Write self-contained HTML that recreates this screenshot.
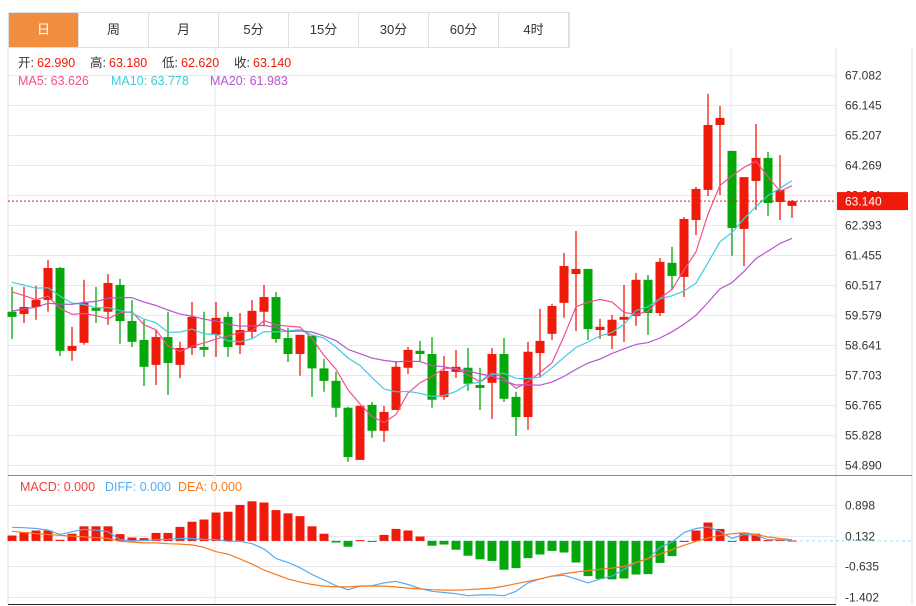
<!DOCTYPE html>
<html><head><meta charset="utf-8"><style>
body{margin:0;background:#fff;font-family:"Liberation Sans","Noto Sans CJK SC",sans-serif;}
#wrap{position:relative;width:916px;height:606px;overflow:hidden;}
.tabs{position:absolute;left:8px;top:12px;height:34px;display:flex;border:1px solid #dde1e6;border-bottom:1px solid #dde1e6;}
.tab{width:70px;height:34px;line-height:34px;text-align:center;font-size:13px;color:#333;border-right:1px solid #dde1e6;box-sizing:border-box;}
.tab.on{background:#f28c3e;color:#fff;}
svg{position:absolute;left:0;top:0;}
</style></head><body><div id="wrap">
<div class="tabs">
<div class="tab on">日</div>
<div class="tab">周</div>
<div class="tab">月</div>
<div class="tab">5分</div>
<div class="tab">15分</div>
<div class="tab">30分</div>
<div class="tab">60分</div>
<div class="tab">4时</div>
</div>
<svg id="chart" width="916" height="606"></svg>
</div>
<script>
const prevCloses=[58.5,58.9,58.6,59.0,58.7,58.8,59.1,58.6,58.9,58.9,60.7,61.0,60.9,61.1,60.8,60.4,60.7,60.5,60.38];
const opens=[59.68,59.61,59.83,60.05,61.05,58.46,58.71,59.80,59.68,60.52,59.39,58.80,58.02,58.89,58.02,58.55,58.58,58.96,59.52,58.64,59.05,59.68,60.14,58.86,58.36,58.93,57.91,57.52,56.68,55.05,56.77,55.96,56.61,57.93,58.46,58.36,57.02,57.80,57.93,57.39,57.46,58.36,57.02,56.39,58.39,58.99,59.96,60.86,61.02,59.11,58.93,59.43,59.55,60.68,59.64,61.21,60.77,62.55,63.49,65.52,64.71,62.27,63.77,64.49,63.11,62.99];
const highs=[60.46,60.46,60.49,61.30,61.08,59.21,60.68,60.46,60.86,60.71,60.05,59.43,59.11,59.68,58.74,59.99,59.68,59.99,59.68,59.64,60.05,60.52,60.30,59.18,58.96,58.93,58.21,57.80,56.71,56.74,56.86,56.74,58.14,58.58,58.77,58.89,58.30,58.49,58.55,57.93,58.55,58.86,57.18,58.74,59.77,59.93,61.52,62.21,61.02,59.46,59.58,60.52,60.89,60.83,61.36,61.71,62.64,63.58,66.49,66.11,64.71,63.89,65.55,64.68,64.58,63.18];
const lows=[58.83,59.33,59.43,59.68,58.30,58.15,58.65,59.33,59.27,58.68,58.58,57.36,57.39,57.08,57.61,58.33,58.27,58.27,58.27,58.36,58.86,59.27,58.71,58.11,57.68,57.02,57.18,56.39,54.99,55.05,55.74,55.61,56.61,57.74,58.14,56.68,56.93,57.61,57.21,56.61,56.33,56.86,55.80,55.99,57.64,58.80,59.49,59.08,58.80,58.83,58.52,58.74,59.24,58.96,59.55,60.36,60.14,62.08,63.30,63.33,61.43,61.11,62.86,62.68,62.55,62.62];
const closes=[59.52,59.83,60.05,61.05,58.46,58.61,59.96,59.71,60.58,59.39,58.74,57.96,58.89,58.08,58.55,59.52,58.49,59.49,58.58,59.11,59.71,60.14,58.83,58.36,58.96,57.91,57.52,56.68,55.14,56.74,55.96,56.55,57.96,58.49,58.36,56.93,57.83,57.96,57.43,57.30,58.36,56.96,56.39,58.43,58.77,59.86,61.11,61.02,59.14,59.21,59.43,59.52,60.68,59.64,61.24,60.80,62.58,63.52,65.52,65.74,62.30,63.89,64.49,63.08,63.49,63.14];
const priceTicks=[67.082,66.145,65.207,64.269,63.331,62.393,61.455,60.517,59.579,58.641,57.703,56.765,55.828,54.890];
const macdHist=[0.135,0.22,0.26,0.26,0.03,0.18,0.365,0.365,0.365,0.17,0.085,0.07,0.2,0.2,0.35,0.48,0.535,0.71,0.73,0.9,0.99,0.96,0.77,0.69,0.62,0.365,0.18,-0.04,-0.145,0.02,-0.02,0.15,0.3,0.26,0.11,-0.12,-0.09,-0.22,-0.37,-0.46,-0.5,-0.72,-0.68,-0.43,-0.34,-0.25,-0.29,-0.54,-0.88,-0.95,-0.96,-0.94,-0.84,-0.83,-0.55,-0.38,0,0.26,0.46,0.3,-0.01,0.21,0.18,0.02,0.03,0.01];
const diffVals=[0.34,0.33,0.31,0.27,0.16,0.23,0.29,0.27,0.23,0.03,0.0,0.01,0.03,0.04,0.06,0.06,0.04,0.03,-0.01,-0.01,-0.07,-0.2,-0.44,-0.54,-0.67,-0.84,-0.98,-1.12,-1.22,-1.13,-1.12,-1.05,-1.01,-1.09,-1.19,-1.26,-1.29,-1.32,-1.37,-1.35,-1.35,-1.37,-1.26,-1.05,-0.95,-0.88,-0.86,-0.95,-1.05,-0.95,-0.88,-0.71,-0.54,-0.45,-0.16,-0.03,0.21,0.31,0.35,0.24,0.06,0.16,0.14,0.03,0.03,0.01];
const deaVals=[0.24,0.21,0.18,0.16,0.14,0.12,0.1,0.08,0.06,-0.01,-0.03,-0.05,-0.05,-0.07,-0.08,-0.1,-0.16,-0.27,-0.33,-0.45,-0.58,-0.73,-0.84,-0.95,-1.03,-1.09,-1.13,-1.15,-1.15,-1.13,-1.13,-1.13,-1.15,-1.18,-1.2,-1.22,-1.23,-1.23,-1.22,-1.2,-1.18,-1.13,-1.07,-1.01,-0.95,-0.88,-0.82,-0.78,-0.74,-0.71,-0.68,-0.64,-0.54,-0.44,-0.33,-0.22,-0.11,-0.01,0.07,0.14,0.18,0.2,0.16,0.1,0.06,0.03];
const macdTicks=[0.898,0.132,-0.635,-1.402];

const NS='http://www.w3.org/2000/svg',svg=document.getElementById('chart');
function mk(t,a,p){const e=document.createElementNS(NS,t);for(const k in a)e.setAttribute(k,a[k]);(p||svg).appendChild(e);return e;}
const PMAX=67.082,PMIN=54.890,PY0=75,PY1=465;
const yP=p=>PY0+(PMAX-p)/(PMAX-PMIN)*(PY1-PY0);
const xI=i=>12+i*12;
const MY0=505,MY1=597,MMAX=0.898,MMIN=-1.402;
const yM=v=>MY0+(MMAX-v)/(MMAX-MMIN)*(MY1-MY0);
const RIGHT=836;
// frame
let e;
e=mk('line',{x1:8,y1:47,x2:8,y2:605,stroke:'#dde1e6'});
e=mk('line',{x1:RIGHT,y1:47,x2:RIGHT,y2:605,stroke:'#dde1e6'});
e=mk('line',{x1:912,y1:47,x2:912,y2:605,stroke:'#dde1e6'});
e=mk('line',{x1:8,y1:475.5,x2:912,y2:475.5,stroke:'#888'});
e=mk('line',{x1:8,y1:604.5,x2:RIGHT,y2:604.5,stroke:'#222'});
[215,731].forEach(x=>{e=mk('line',{x1:x,y1:47,x2:x,y2:604,stroke:'#e6eaef'});});
priceTicks.forEach(t=>{const y=Math.round(yP(t))+0.5;
e=mk('line',{x1:8,y1:y,x2:RIGHT,y2:y,stroke:'#e6eaef'});
e=mk('text',{x:845,y:y+4,'font-size':12,fill:'#333'});e.textContent=t.toFixed(3);});
macdTicks.forEach(t=>{const y=Math.round(yM(t))+0.5;
e=mk('line',{x1:8,y1:y,x2:RIGHT,y2:y,stroke:'#e6eaef'});
e=mk('text',{x:845,y:y+4,'font-size':12,fill:'#333'});e.textContent=t.toFixed(3);});
// candles
closes.forEach((c,i)=>{const o=opens[i],up=c>=o,col=up?'#f01a0a':'#04a80a',x=xI(i);
const g=mk('g',{});
mk('line',{x1:x,y1:yP(highs[i]),x2:x,y2:yP(lows[i]),stroke:col,'stroke-width':1.3},g);
const t=yP(Math.max(o,c)),b=yP(Math.min(o,c));
mk('rect',{x:x-4.5,y:t,width:9,height:Math.max(1.5,b-t),fill:col},g);});
// MAs
const all=prevCloses.concat(closes),off=prevCloses.length;
function ma(n){return closes.map((c,i)=>{let s=0;for(let k=0;k<n;k++)s+=all[off+i-k];return s/n;});}
[[5,'#f0508c','ma5-line'],[10,'#3ccde0','ma10-line'],[20,'#b655cc','ma20-line']].forEach(([n,col,nm])=>{
const v=ma(n);e=mk('polyline',{points:v.map((p,i)=>xI(i)+','+yP(p).toFixed(1)).join(' '),fill:'none',stroke:col,'stroke-width':1.2});
});
// current price
const last=closes[closes.length-1],ly=yP(last);
e=mk('line',{x1:8,y1:ly,x2:RIGHT,y2:ly,stroke:'#f01a0a','stroke-dasharray':'2,2'});
e=mk('rect',{x:837,y:ly-9,width:71,height:18,fill:'#f01a0a'});
e=mk('text',{x:845,y:ly+4.5,'font-size':12,fill:'#fff'});e.textContent=last.toFixed(3);
// MACD
const z=yM(0);
e=mk('line',{x1:8,y1:z,x2:912,y2:z,stroke:'#a6d8ec','stroke-dasharray':'3,3'});
macdHist.forEach((v,i)=>{const y=yM(v),col=v>=0?'#f01a0a':'#04a80a';
e=mk('rect',{x:xI(i)-4.5,y:Math.min(y,z),width:9,height:Math.max(1,Math.abs(y-z)),fill:col});});
e=mk('polyline',{points:diffVals.map((v,i)=>xI(i)+','+yM(v).toFixed(1)).join(' '),fill:'none',stroke:'#5aaaf0','stroke-width':1.2});
e=mk('polyline',{points:deaVals.map((v,i)=>xI(i)+','+yM(v).toFixed(1)).join(' '),fill:'none',stroke:'#fa7a1e','stroke-width':1.2});
// headers
function txt(x,y,s,col,nm){e=mk('text',{x:x,y:y,'font-size':12.5,fill:col});e.textContent=s;}
txt(18,67,'开:','#333','open-label');txt(37,67,'62.990','#f01a0a','open-value');
txt(90,67,'高:','#333','high-label');txt(109,67,'63.180','#f01a0a','high-value');
txt(162,67,'低:','#333','low-label');txt(181,67,'62.620','#f01a0a','low-value');
txt(234,67,'收:','#333','close-label');txt(253,67,'63.140','#f01a0a','close-value');
txt(18,85,'MA5: 63.626','#f0508c','ma5-legend');txt(111,85,'MA10: 63.778','#3ccde0','ma10-legend');txt(210,85,'MA20: 61.983','#b655cc','ma20-legend');
txt(20,491,'MACD: 0.000','#f04040','macd-legend');txt(105,491,'DIFF: 0.000','#5aaaf0','diff-legend');txt(178,491,'DEA: 0.000','#fa7a1e','dea-legend');
</script></body></html>
